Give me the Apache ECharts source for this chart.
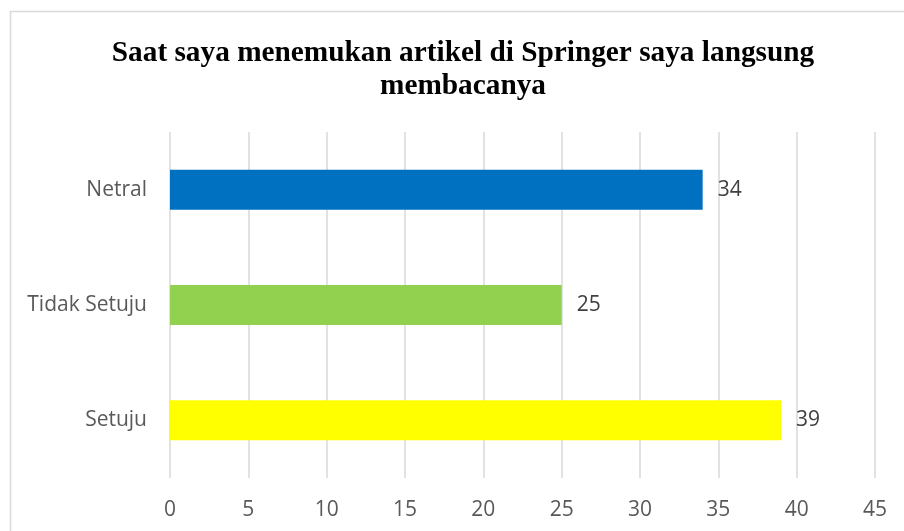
<!DOCTYPE html>
<html>
<head>
<meta charset="utf-8">
<script src="https://cdn.jsdelivr.net/npm/echarts@6/dist/echarts.min.js"></script>
<style>
html,body{margin:0;padding:0;background:#fff;}
#chart{width:904px;height:531px;}
</style>
</head>
<body>
<div id="chart"></div>
<script>
const categories = ['Setuju', 'Tidak Setuju', 'Netral'];
const values = [39, 25, 34];
const colors = ['#FFFF00', '#92D050', '#0070C0'];
const xTicks = [0, 5, 10, 15, 20, 25, 30, 35, 40, 45];
const titleText = 'Saat saya menemukan artikel di Springer saya langsung\nmembacanya';

const chart = echarts.init(document.getElementById('chart'), null, {renderer: 'canvas'});
chart.setOption({
  animation: false,
  backgroundColor: '#ffffff',
  graphic: [{
    type: 'rect',
    shape: {x: 10.5, y: 11.5, width: 1000, height: 1000},
    style: {fill: 'none', stroke: '#d9d9d9', lineWidth: 1.5},
    silent: true
  }],
  title: {
    text: titleText,
    left: 463,
    textAlign: 'center',
    top: 37,
    padding: 0,
    textStyle: {
      fontFamily: '"Liberation Serif", "Times New Roman", serif',
      fontWeight: 'bold',
      fontSize: 29.3,
      color: '#000000',
      lineHeight: 33
    }
  },
  grid: {left: 170, right: 29, top: 132, bottom: 53},
  xAxis: {
    type: 'value',
    min: 0,
    max: 45,
    interval: 5,
    axisLine: {show: false},
    axisTick: {show: false},
    splitLine: {show: true, lineStyle: {color: '#d9d9d9', width: 1.5}},
    axisLabel: {
      margin: 22,
      fontFamily: '"Open Sans", "Noto Sans", sans-serif',
      fontSize: 21,
      color: '#595959',
      formatter: v => xTicks.includes(v) ? String(v) : ''
    }
  },
  yAxis: {
    type: 'category',
    data: categories,
    axisLine: {show: false},
    axisTick: {show: false},
    axisLabel: {
      margin: 23,
      fontFamily: '"Open Sans", "Noto Sans", sans-serif',
      fontSize: 21,
      color: '#595959'
    }
  },
  series: [{
    type: 'bar',
    data: values.map((v, i) => ({value: v, itemStyle: {color: colors[i]}})),
    barWidth: 40,
    label: {
      show: true,
      position: 'right',
      distance: 15,
      fontFamily: '"Open Sans", "Noto Sans", sans-serif',
      fontSize: 21,
      color: '#404040'
    }
  }]
});
</script>
</body>
</html>
